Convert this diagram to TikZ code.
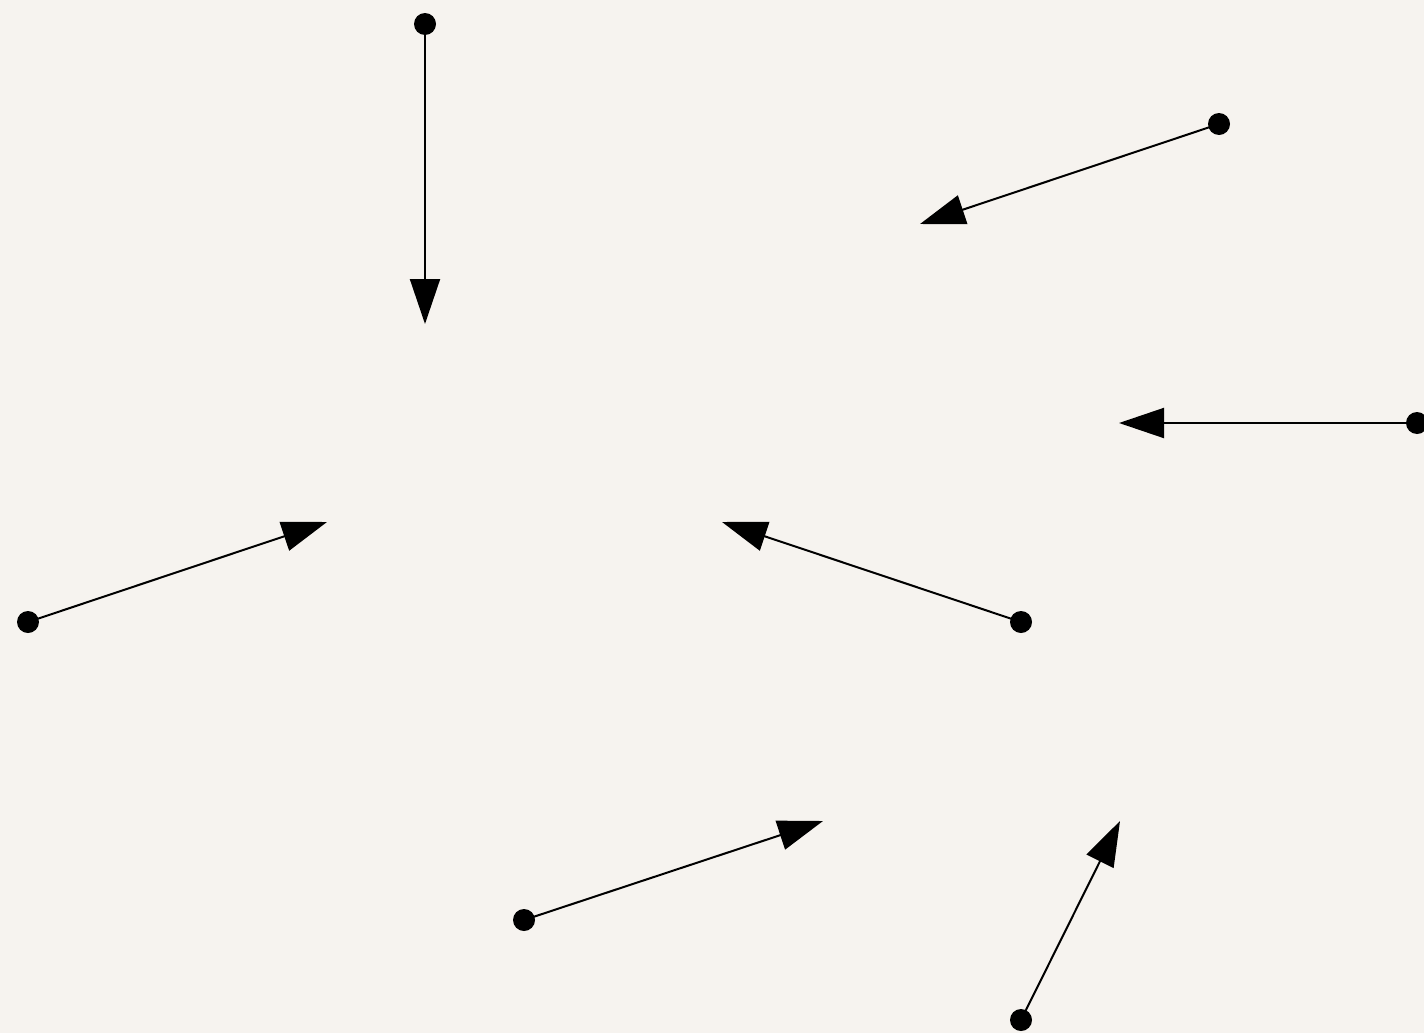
\documentclass[tikz,border=0pt]{standalone}
\usetikzlibrary{arrows.meta}
\definecolor{paper}{HTML}{F6F3EF}
\tikzset{
  tail/.style={circle,fill=black,inner sep=0pt,minimum size=11pt},
  vec/.style={line width=1pt,-{Triangle[length=22.5pt,width=15pt]}},
}
\begin{document}
\begin{tikzpicture}[x=0.5pt,y=-0.5pt]
\fill[paper] (0,0) rectangle (1424,1033);
\useasboundingbox (0,0) rectangle (1424,1033);
\node[tail] (t1) at (425,24) {};   \coordinate (h1) at (425,324);
\node[tail] (t2) at (1219,124) {}; \coordinate (h2) at (920,224);
\node[tail] (t3) at (1417,423) {}; \coordinate (h3) at (1119,423);
\node[tail] (t4) at (28,622) {};   \coordinate (h4) at (327,522);
\node[tail] (t5) at (1021,622) {}; \coordinate (h5) at (722,522);
\node[tail] (t6) at (524,920) {};  \coordinate (h6) at (823,821);
\node[tail] (t7) at (1021,1020) {};\coordinate (h7) at (1120,821);
\foreach \i in {1,...,7} { \draw[vec] (t\i.center) -- (h\i); }
\end{tikzpicture}
\end{document}
